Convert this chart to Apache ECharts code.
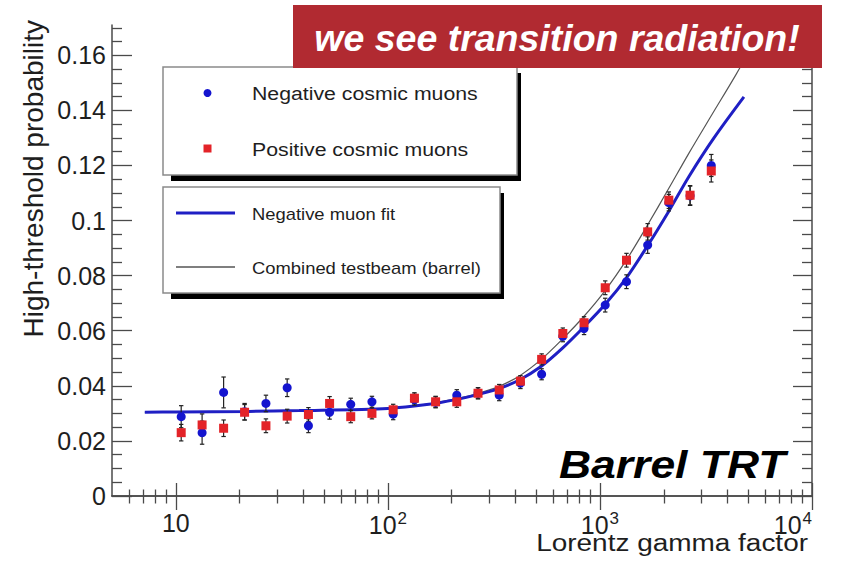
<!DOCTYPE html>
<html>
<head>
<meta charset="utf-8">
<script src="https://cdn.jsdelivr.net/npm/echarts@6/dist/echarts.min.js"></script>
<style>
  html, body { margin: 0; padding: 0; background: #ffffff; }
  #chart { width: 844px; height: 563px; }
</style>
</head>
<body>
<div id="chart"></div>
<script>
// Lorentz gamma factor bin centres
const gamma = [10.6, 13.3, 16.8, 21.1, 26.6, 33.5, 42.2, 53.1, 66.8, 84.1,
  105.9, 133.4, 167.9, 211.3, 266.1, 335, 421.7, 530.9, 668.3, 841.4,
  1059, 1334, 1679, 2113, 2661, 3350];

// Negative cosmic muons: high-threshold probability and its uncertainty
const negProb = [0.0288, 0.0230, 0.0376, 0.0306, 0.0336, 0.0393, 0.0255, 0.0304, 0.0333, 0.0342,
  0.0297, 0.0350, 0.0340, 0.0366, 0.0373, 0.0366, 0.0410, 0.0442, 0.0580, 0.0608,
  0.0693, 0.0778, 0.0911, 0.1065, 0.1090, 0.1200];
const negErr = [0.0040, 0.0042, 0.0056, 0.0030, 0.0030, 0.0032, 0.0025, 0.0025, 0.0022, 0.0020,
  0.0020, 0.0020, 0.0020, 0.0020, 0.0020, 0.0020, 0.0020, 0.0020, 0.0020, 0.0022,
  0.0025, 0.0025, 0.0030, 0.0030, 0.0035, 0.0040];

// Positive cosmic muons
const posProb = [0.0230, 0.0258, 0.0246, 0.0304, 0.0255, 0.0290, 0.0296, 0.0336, 0.0288, 0.0300,
  0.0313, 0.0355, 0.0342, 0.0342, 0.0373, 0.0385, 0.0417, 0.0496, 0.0590, 0.0629,
  0.0756, 0.0856, 0.0959, 0.1074, 0.1092, 0.1180];
const posErr = [0.0030, 0.0040, 0.0030, 0.0028, 0.0025, 0.0025, 0.0025, 0.0025, 0.0022, 0.0020,
  0.0020, 0.0020, 0.0020, 0.0020, 0.0020, 0.0020, 0.0020, 0.0020, 0.0020, 0.0022,
  0.0025, 0.0025, 0.0030, 0.0030, 0.0035, 0.0040];

// Negative muon fit curve
const fitGamma = [7.14, 10, 22.1, 38.1, 100, 156, 209, 268, 334, 419,
  527, 662, 831, 1056, 1341, 1666, 2116, 2629, 3449, 4775];
const fitProb = [0.0304, 0.0305, 0.0307, 0.0310, 0.0318, 0.0333, 0.0350, 0.0369, 0.0390, 0.0422,
  0.0470, 0.0535, 0.0610, 0.0695, 0.0795, 0.0905, 0.1035, 0.1160, 0.1300, 0.1449];

// Combined testbeam (barrel) curve
const beamGamma = [7.14, 10, 22.1, 38.1, 100, 156, 209, 268, 334, 419,
  527, 662, 831, 1056, 1341, 1666, 2116, 2629, 3376, 4380, 5747];
const beamProb = [0.0304, 0.0305, 0.0307, 0.0310, 0.0318, 0.0335, 0.0353, 0.0373, 0.0398, 0.0437,
  0.0495, 0.0568, 0.0648, 0.0745, 0.0860, 0.0980, 0.1118, 0.1245, 0.1385, 0.1530, 0.1690];

// Axis ticks and labels (base and exponent of each decade label)
const xMajorTicks = [10, 100, 1000, 10000];
const xTickBase = ['10', '10', '10', '10'];
const xTickExp = ['', '2', '3', '4'];
const xMinorTicks = [6, 7, 8, 9, 20, 30, 40, 50, 60, 70, 80, 90,
  200, 300, 400, 500, 600, 700, 800, 900, 2000, 3000, 4000, 5000, 6000, 7000, 8000, 9000];
const yMajorTicks = [0, 0.02, 0.04, 0.06, 0.08, 0.1, 0.12, 0.14, 0.16];
const yTickLabels = ['0', '0.02', '0.04', '0.06', '0.08', '0.1', '0.12', '0.14', '0.16'];
const yMinorTicks = [0.005, 0.01, 0.015, 0.025, 0.03, 0.035, 0.045, 0.05, 0.055,
  0.065, 0.07, 0.075, 0.085, 0.09, 0.095, 0.105, 0.11, 0.115,
  0.125, 0.13, 0.135, 0.145, 0.15, 0.155, 0.165, 0.17];

const FONT = '"Liberation Sans", Arial, Helvetica, sans-serif';
const AXIS_COLOR = '#4a4a4a';
const TEXT_COLOR = '#1e1e1e';
const X_MIN = 5, X_MAX = 10000, Y_MIN = 0, Y_MAX = 0.171;

function xAxisDef(position, ticks, len, withLine, withLabels) {
  return {
    type: 'log', logBase: 10, min: X_MIN, max: X_MAX, position: position,
    axisLine: { show: withLine, lineStyle: { color: AXIS_COLOR, width: 1.5 } },
    axisTick: { show: true, inside: true, length: len, customValues: ticks,
      lineStyle: { color: AXIS_COLOR, width: 1.3 } },
    axisLabel: withLabels ? {
      show: true, customValues: ticks, margin: 14,
      alignMaxLabel: 'right',
      formatter: function (v) {
        const i = xMajorTicks.indexOf(Math.round(v));
        const e = xTickExp[i];
        return '{b|' + xTickBase[i] + '}' + (e ? '{s|' + e + '}' : '');
      },
      rich: {
        b: { fontSize: 25, fontFamily: FONT, color: TEXT_COLOR },
        s: { fontSize: 17, fontFamily: FONT, color: TEXT_COLOR, padding: [0, 0, 12, 1] }
      }
    } : { show: false },
    splitLine: { show: false }
  };
}

function yAxisDef(position, ticks, len, withLine, withLabels) {
  return {
    type: 'value', min: Y_MIN, max: Y_MAX, position: position,
    axisLine: { show: withLine, lineStyle: { color: AXIS_COLOR, width: 1.5 } },
    axisTick: { show: true, inside: true, length: len, customValues: ticks,
      lineStyle: { color: AXIS_COLOR, width: 1.3 } },
    axisLabel: withLabels ? {
      show: true, customValues: ticks, margin: 6,
      fontSize: 25, fontFamily: FONT, color: TEXT_COLOR,
      formatter: function (v) {
        const i = yMajorTicks.findIndex(function (t) { return Math.abs(t - v) < 1e-9; });
        return i >= 0 ? yTickLabels[i] : '';
      }
    } : { show: false },
    splitLine: { show: false }
  };
}

function errorBars(prob, err, z) {
  return {
    type: 'custom', xAxisIndex: 0, yAxisIndex: 0, z: z, silent: true,
    data: gamma.map(function (g, i) { return [g, prob[i] - err[i], prob[i] + err[i]]; }),
    encode: { x: 0, y: [1, 2] },
    renderItem: function (params, api) {
      const lo = api.coord([api.value(0), api.value(1)]);
      const hi = api.coord([api.value(0), api.value(2)]);
      const c = 2.2;
      const st = { stroke: '#222222', lineWidth: 1.2 };
      return {
        type: 'group',
        children: [
          { type: 'line', shape: { x1: lo[0], y1: lo[1], x2: hi[0], y2: hi[1] }, style: st },
          { type: 'line', shape: { x1: lo[0] - c, y1: lo[1], x2: lo[0] + c, y2: lo[1] }, style: st },
          { type: 'line', shape: { x1: hi[0] - c, y1: hi[1], x2: hi[0] + c, y2: hi[1] }, style: st }
        ]
      };
    }
  };
}

function legendBox(x, y, w, h, z) {
  return [
    { type: 'rect', z: z, shape: { x: x + 8, y: y + 6, width: w - 4, height: h }, style: { fill: '#000' } },
    { type: 'rect', z: z + 1, shape: { x: x, y: y, width: w, height: h },
      style: { fill: '#fff', stroke: '#8a8a8a', lineWidth: 1.5 } }
  ];
}

function label(text, x, y, size, sx) {
  return {
    type: 'text', z: 60, x: x, y: y, scaleX: sx || 1,
    style: { text: text, fontSize: size, fontFamily: FONT, fill: TEXT_COLOR,
      align: 'left', verticalAlign: 'middle' }
  };
}

const chart = echarts.init(document.getElementById('chart'), null, { renderer: 'svg' });

chart.setOption({
  animation: false,
  backgroundColor: '#ffffff',
  grid: { left: 112, top: 25, right: 32, bottom: 67 },
  xAxis: [
    xAxisDef('bottom', xMajorTicks, 13, true, true),
    xAxisDef('bottom', xMinorTicks, 6.5, false, false),
    xAxisDef('top', xMajorTicks, 14, true, false),
    xAxisDef('top', xMinorTicks, 7.5, false, false)
  ],
  yAxis: [
    yAxisDef('left', yMajorTicks, 20, true, true),
    yAxisDef('left', yMinorTicks, 10, false, false),
    yAxisDef('right', yMajorTicks, 19, true, false),
    yAxisDef('right', yMinorTicks, 10, false, false)
  ],
  series: [
    {
      name: 'Combined testbeam (barrel)', type: 'line', xAxisIndex: 0, yAxisIndex: 0, z: 2,
      data: beamGamma.map(function (g, i) { return [g, beamProb[i]]; }),
      showSymbol: false, smooth: 0.3, clip: true,
      lineStyle: { color: '#555555', width: 1.2 }
    },
    {
      name: 'Negative muon fit', type: 'line', xAxisIndex: 0, yAxisIndex: 0, z: 3,
      data: fitGamma.map(function (g, i) { return [g, fitProb[i]]; }),
      showSymbol: false, smooth: 0.3, clip: true,
      lineStyle: { color: '#1f1fc4', width: 3 }
    },
    errorBars(negProb, negErr, 4),
    errorBars(posProb, posErr, 4),
    {
      name: 'Negative cosmic muons', type: 'scatter', xAxisIndex: 0, yAxisIndex: 0, z: 5,
      data: gamma.map(function (g, i) { return [g, negProb[i]]; }),
      symbol: 'circle', symbolSize: 9,
      itemStyle: { color: '#1414cf', opacity: 1 }
    },
    {
      name: 'Positive cosmic muons', type: 'scatter', xAxisIndex: 0, yAxisIndex: 0, z: 6,
      data: gamma.map(function (g, i) { return [g, posProb[i]]; }),
      symbol: 'rect', symbolSize: 9,
      itemStyle: { color: '#e32328', opacity: 1 }
    }
  ],
  graphic: [].concat(
    // legend: data markers
    legendBox(163, 67, 354, 108, 40),
    [
      { type: 'circle', z: 60, shape: { cx: 207.5, cy: 93, r: 4 }, style: { fill: '#1414cf' } },
      { type: 'rect', z: 60, shape: { x: 203.5, y: 144.5, width: 8, height: 8 }, style: { fill: '#e32328' } },
      label('Negative cosmic muons', 252, 93, 19, 1.12),
      label('Positive cosmic muons', 252, 149, 19, 1.12)
    ],
    // legend: curves
    legendBox(163, 187, 337, 106, 40),
    [
      { type: 'line', z: 60, shape: { x1: 176, y1: 213, x2: 235, y2: 213 }, style: { stroke: '#1f1fc4', lineWidth: 3 } },
      { type: 'line', z: 60, shape: { x1: 176, y1: 267, x2: 235, y2: 267 }, style: { stroke: '#555555', lineWidth: 1.5 } },
      label('Negative muon fit', 252, 214, 16, 1.15),
      label('Combined testbeam (barrel)', 252, 268, 16, 1.15)
    ],
    // detector tag
    [
      {
        type: 'text', z: 60, x: 559, y: 464, scaleX: 1.14,
        style: { text: 'Barrel TRT', fontSize: 39, fontFamily: FONT, fontWeight: 'bold', fontStyle: 'italic',
          fill: '#000', align: 'left', verticalAlign: 'middle' }
      }
    ],
    // axis titles
    [
      {
        type: 'text', z: 60, x: 33, y: 20, rotation: Math.PI / 2,
        style: { text: 'High-threshold probability', fontSize: 28, fontFamily: FONT, fill: TEXT_COLOR,
          align: 'right', verticalAlign: 'middle' }
      },
      {
        type: 'text', z: 60, x: 808, y: 543, scaleX: 1.19,
        style: { text: 'Lorentz gamma factor', fontSize: 23.5, fontFamily: FONT, fill: TEXT_COLOR,
          align: 'right', verticalAlign: 'middle' }
      }
    ],
    // headline banner
    [
      { type: 'rect', z: 100, shape: { x: 293, y: 5, width: 529, height: 63 }, style: { fill: '#b12a31' } },
      {
        type: 'text', z: 101, x: 557, y: 38,
        style: { text: 'we see transition radiation!', fontSize: 37.5, fontFamily: FONT,
          fontWeight: 'bold', fontStyle: 'italic', fill: '#ffffff', align: 'center', verticalAlign: 'middle' }
      }
    ]
  )
});
</script>
</body>
</html>
